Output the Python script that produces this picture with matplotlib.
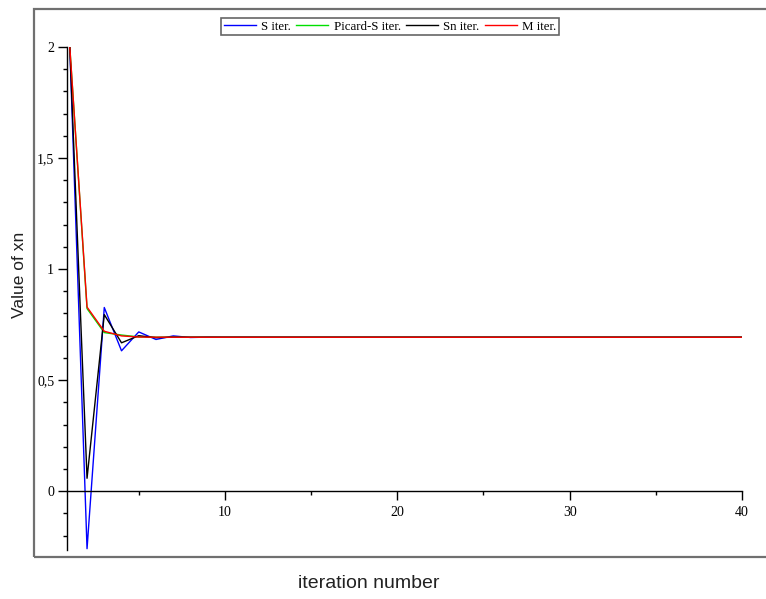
import matplotlib.pyplot as plt
from matplotlib.patches import Rectangle
from matplotlib.ticker import FuncFormatter, MultipleLocator

# iteration numbers 1..40
n = list(range(1, 41))

s_iter = [2.0, -0.259, 0.827, 0.632, 0.717, 0.683, 0.699, 0.692, 0.6935, 0.6930,
          0.6932, 0.6931, 0.6931, 0.6931, 0.6931, 0.6931, 0.6931, 0.6931, 0.6931, 0.6931,
          0.6931, 0.6931, 0.6931, 0.6931, 0.6931, 0.6931, 0.6931, 0.6931, 0.6931, 0.6931,
          0.6931, 0.6931, 0.6931, 0.6931, 0.6931, 0.6931, 0.6931, 0.6931, 0.6931, 0.6931]
picard_s = [2.0, 0.822, 0.714, 0.703, 0.6945, 0.6932, 0.6931, 0.6931, 0.6931, 0.6931,
            0.6931, 0.6931, 0.6931, 0.6931, 0.6931, 0.6931, 0.6931, 0.6931, 0.6931, 0.6931,
            0.6931, 0.6931, 0.6931, 0.6931, 0.6931, 0.6931, 0.6931, 0.6931, 0.6931, 0.6931,
            0.6931, 0.6931, 0.6931, 0.6931, 0.6931, 0.6931, 0.6931, 0.6931, 0.6931, 0.6931]
sn_iter = [2.0, 0.058, 0.795, 0.668, 0.700, 0.691, 0.6935, 0.6930, 0.6931, 0.6931,
           0.6931, 0.6931, 0.6931, 0.6931, 0.6931, 0.6931, 0.6931, 0.6931, 0.6931, 0.6931,
           0.6931, 0.6931, 0.6931, 0.6931, 0.6931, 0.6931, 0.6931, 0.6931, 0.6931, 0.6931,
           0.6931, 0.6931, 0.6931, 0.6931, 0.6931, 0.6931, 0.6931, 0.6931, 0.6931, 0.6931]
m_iter = [2.0, 0.829, 0.720, 0.699, 0.694, 0.6932, 0.6931, 0.6931, 0.6931, 0.6931,
          0.6931, 0.6931, 0.6931, 0.6931, 0.6931, 0.6931, 0.6931, 0.6931, 0.6931, 0.6931,
          0.6931, 0.6931, 0.6931, 0.6931, 0.6931, 0.6931, 0.6931, 0.6931, 0.6931, 0.6931,
          0.6931, 0.6931, 0.6931, 0.6931, 0.6931, 0.6931, 0.6931, 0.6931, 0.6931, 0.6931]

W, H = 766, 599
fig = plt.figure(figsize=(W / 100, H / 100), dpi=100)

# axes placed in pixel coords: y-axis at x=66.7px, x=40 at 742px, y=2 at 47px, bottom at 550px
left, right, top, bottom = 66.7, 742, 47, 550
ax = fig.add_axes([left / W, 1 - bottom / H, (right - left) / W, (bottom - top) / H])

ax.plot(n, s_iter, color='#0000ff', lw=1.0, label='S iter.')
ax.plot(n, picard_s, color='#00e000', lw=1.0, label='Picard-S iter.')
ax.plot(n, sn_iter, color='black', lw=1.0, label='Sn iter.')
ax.plot(n, m_iter, color='#ff0000', lw=1.0, label='M iter.')

ax.set_xlim(0.82, 40)
ax.set_ylim(-0.265, 2.0)

# Maple-like axes: x axis through y=0, y axis on the left
ax.spines['top'].set_visible(False)
ax.spines['right'].set_visible(False)
ax.spines['bottom'].set_position(('data', 0))
for sp in ('bottom', 'left'):
    ax.spines[sp].set_linewidth(1.0)

ax.xaxis.set_minor_locator(MultipleLocator(5))
ax.set_xticks([10, 20, 30, 40])
ax.yaxis.set_major_locator(MultipleLocator(0.5))
ax.yaxis.set_minor_locator(MultipleLocator(0.1))
ax.yaxis.set_major_formatter(FuncFormatter(lambda v, p: ('%g' % v).replace('.', ',')))

ax.tick_params(axis='both', which='major', direction='out', length=6.5, width=1.0,
               labelsize=10, pad=2.5)
ax.tick_params(axis='both', which='minor', direction='out', length=3, width=1.0)
ax.tick_params(axis='x', which='major', pad=4)
for lab in ax.get_xticklabels() + ax.get_yticklabels():
    lab.set_family('Liberation Serif')

# outer frame (right side runs off the picture)
frame = Rectangle((34 / W, 1 - 557 / H), 1.05, (557 - 9) / H, transform=fig.transFigure,
                  fill=False, edgecolor='#707070', lw=1.6, clip_on=False)
fig.patches.append(frame)

leg = fig.legend(loc='center', bbox_to_anchor=(390 / W, 1 - 26.5 / H), ncol=4,
                 prop={'family': 'Liberation Serif', 'size': 9.3},
                 frameon=True, fancybox=False, handlelength=2.5, handletextpad=0.4,
                 columnspacing=0.4, borderpad=0.2, borderaxespad=0)
leg.get_frame().set_edgecolor('#404040')
leg.get_frame().set_linewidth(1.2)

fig.text(368.5 / W, 1 - 583 / H, 'iteration number', ha='center', va='center',
         family='Liberation Sans', fontsize=14, color='#222222')
fig.text(20 / W, 1 - 275 / H, 'Value of xn', ha='center', va='center', rotation=90,
         family='Liberation Sans', fontsize=12.5, color='#222222')

fig.savefig('out.png', dpi=100)
